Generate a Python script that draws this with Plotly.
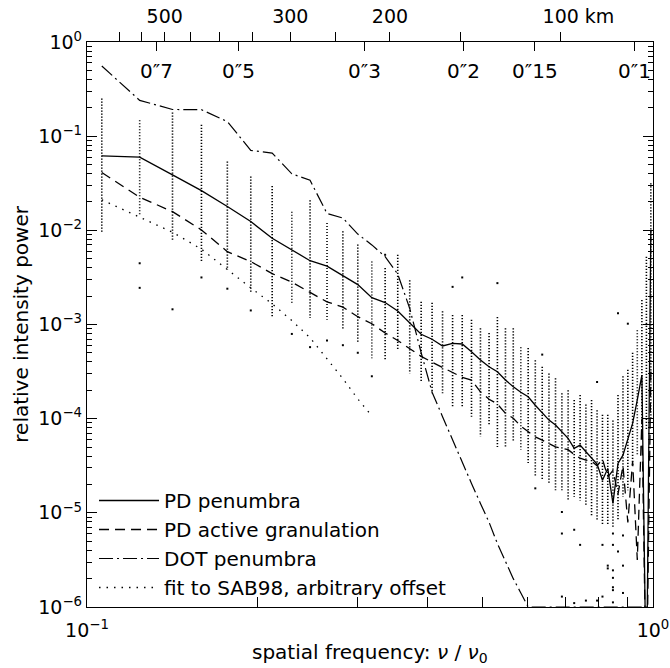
import math
import plotly.graph_objects as go

# ---------------- data ----------------
# spatial frequency nu/nu0 of the sampled rings
nu = [0.1062, 0.1239, 0.1416, 0.1593, 0.1770, 0.1947, 0.2124, 0.2301, 0.2478, 0.2655,
      0.2832, 0.3009, 0.3186, 0.3363, 0.3540, 0.3717, 0.3894, 0.4071, 0.4248, 0.4425,
      0.4602, 0.4779, 0.4956, 0.5133, 0.5310, 0.5487, 0.5664, 0.5841, 0.6018, 0.6195,
      0.6372, 0.6549, 0.6726, 0.6903, 0.7080, 0.7257, 0.7434, 0.7611, 0.7788, 0.7965,
      0.8142, 0.8319, 0.8496, 0.8673, 0.8850, 0.9027, 0.9204, 0.9381, 0.9558, 0.9735,
      0.9912]

pd_penumbra = [6.18e-2, 5.98e-2, 3.88e-2, 2.64e-2, 1.79e-2, 1.24e-2, 8.24e-3, 6.19e-3, 4.76e-3, 4.17e-3,
               3.31e-3, 2.65e-3, 1.93e-3, 1.71e-3, 1.39e-3, 1.04e-3, 7.87e-4, 6.97e-4, 5.92e-4, 6.31e-4,
               6.21e-4, 5.14e-4, 4.20e-4, 3.56e-4, 3.15e-4, 2.57e-4, 2.18e-4, 1.91e-4, 1.71e-4, 1.39e-4,
               1.14e-4, 9.66e-5, 8.55e-5, 7.26e-5, 6.17e-5, 4.83e-5, 5.24e-5, 4.45e-5, 3.78e-5, 3.29e-5,
               2.22e-5, 2.96e-5, 1.26e-5, 3.35e-5, 4.10e-5, 5.92e-5, 8.91e-5, 1.58e-4, 2.90e-4, 1.0e-7,
               1.0e-2]

pd_active = [4.11e-2, 2.25e-2, 1.58e-2, 1.01e-2, 5.94e-3, 4.66e-3, 3.47e-3, 2.82e-3, 2.19e-3, 1.74e-3,
             1.53e-3, 1.21e-3, 1.02e-3, 8.13e-4, 6.76e-4, 5.55e-4, 4.59e-4, 3.98e-4, 3.49e-4, 3.13e-4,
             2.75e-4, 2.57e-4, 1.93e-4, 1.61e-4, 1.43e-4, 1.14e-4, 1.01e-4, 8.32e-5, 7.26e-5, 6.41e-5,
             5.92e-5, 5.43e-5, 5.02e-5, 4.83e-5, 4.68e-5, 4.17e-5, 3.80e-5, 3.63e-5, 3.55e-5, 3.16e-5,
             3.72e-5, 2.40e-5, 2.82e-5, 1.58e-5, 3.16e-5, 7.90e-6, 3.55e-5, 3.16e-6, 1.0e-4, 1.0e-7,
             3.16e-4]

dot_penumbra = [0.556, 0.240, 0.192, 0.191, 0.143, 7.05e-2, 6.61e-2, 3.98e-2, 3.40e-2, 1.51e-2,
                1.35e-2, 9.12e-3, 7.00e-3, 5.26e-3, 3.43e-3, 1.48e-3, 5.01e-4, 1.91e-4, 1.05e-4, 5.92e-5,
                3.35e-5, 2.05e-5, 1.26e-5, 7.94e-6, 4.72e-6, 3.02e-6, 2.00e-6, 1.41e-6, 1.0e-6, 1.0e-6,
                1.0e-6, 1.0e-6, 1.0e-6, 1.0e-6, 1.0e-6, 1.0e-6, 1.0e-6, 1.0e-6, 1.0e-6, 1.0e-6,
                1.0e-6, 1.0e-6, 1.0e-6, 1.0e-6, 1.0e-6, 1.0e-6, 1.0e-6, 1.0e-6, 1.0e-6, 1.0e-6,
                1.0e-6]

sab98_nu = [0.1062, 0.1239, 0.1416, 0.1593, 0.1770, 0.1947, 0.2124, 0.2301, 0.2478, 0.2655,
            0.2832, 0.3009, 0.3186]
sab98_fit = [2.11e-2, 1.38e-2, 9.55e-3, 6.31e-3, 3.80e-3, 2.45e-3, 1.66e-3, 1.10e-3, 7.24e-4, 4.27e-4,
             2.66e-4, 1.62e-4, 1.07e-4]

# extent of the dense column of individual-image power values at each nu
cloud_hi = [0.251, 0.148, 0.178, 0.132, 5.37e-2, 3.72e-2, 2.95e-2, 1.58e-2, 2.09e-2, 1.20e-2,
            9.77e-3, 7.08e-3, 4.68e-3, 3.98e-3, 5.50e-3, 2.95e-3, 1.74e-3, 1.70e-3, 1.38e-3, 1.26e-3,
            1.26e-3, 1.12e-3, 9.12e-4, 8.13e-4, 1.20e-3, 9.12e-4, 9.12e-4, 5.75e-4, 5.62e-4, 4.17e-4,
            3.55e-4, 3.02e-4, 2.69e-4, 1.86e-4, 2.00e-4, 1.58e-4, 1.78e-4, 1.41e-4, 1.58e-4, 1.23e-4,
            1.10e-4, 1.10e-4, 9.55e-5, 1.78e-4, 2.82e-4, 3.31e-4, 5.01e-4, 8.71e-4, 1.82e-3, 5.25e-3,
            3.16e-2]
cloud_lo = [9.55e-3, 1.41e-2, 7.94e-3, 4.57e-3, 3.80e-3, 2.14e-3, 1.17e-3, 1.68e-3, 1.17e-3, 1.12e-3,
            8.71e-4, 6.31e-4, 4.37e-4, 4.17e-4, 5.37e-4, 3.02e-4, 2.45e-4, 1.86e-4, 1.86e-4, 1.35e-4,
            1.35e-4, 1.05e-4, 6.46e-5, 8.51e-5, 5.01e-5, 5.01e-5, 5.62e-5, 4.68e-5, 3.39e-5, 2.40e-5,
            2.24e-5, 2.04e-5, 1.74e-5, 1.74e-5, 1.35e-5, 1.48e-5, 1.35e-5, 1.20e-5, 9.33e-6, 8.32e-6,
            7.41e-6, 7.41e-6, 7.08e-6, 8.32e-6, 1.48e-5, 1.74e-5, 3.09e-5, 3.98e-5, 5.89e-5, 7.59e-5,
            1.0e-4]

# isolated values outside the dense columns
outlier_nu = [0.1239, 0.1239, 0.1416, 0.1593, 0.1770, 0.1947, 0.2301, 0.2478, 0.2655, 0.2832,
              0.3009, 0.3186, 0.3363, 0.4425, 0.4602, 0.5310, 0.6372, 0.7965, 0.8673, 0.9027,
              0.6195, 0.6903, 0.6903, 0.6903, 0.7257, 0.7257, 0.7434, 0.7611, 0.7965, 0.8142,
              0.8142, 0.8319, 0.8319, 0.8496, 0.8496, 0.8496, 0.8496, 0.8496, 0.8496, 0.8496,
              0.8673, 0.8850, 0.8850, 0.8850]
outlier_val = [4.47e-3, 2.45e-3, 1.45e-3, 3.16e-3, 2.40e-3, 1.41e-3, 7.94e-4, 5.75e-4, 6.76e-4, 6.03e-4,
               5.01e-4, 2.82e-4, 5.50e-3, 2.51e-3, 3.16e-3, 2.75e-3, 4.79e-4, 2.45e-4, 1.32e-3, 1.02e-3,
               1.82e-5, 1.02e-5, 6.03e-6, 1.29e-6, 6.61e-6, 1.10e-6, 4.57e-6, 1.17e-6, 1.17e-6, 4.57e-6,
               1.29e-6, 2.75e-6, 2.57e-6, 6.03e-6, 4.57e-6, 2.45e-6, 2.04e-6, 1.62e-6, 1.51e-6, 1.12e-6,
               3.89e-6, 5.75e-6, 2.75e-6, 1.41e-6]

# top-axis scales
km_ticks = [600, 550, 500, 450, 400, 350, 300, 250, 200, 150, 100]
km_labelled = {500: "500", 300: "300", 200: "200", 100: "100 km"}
arcsec_ticks = [0.7, 0.5, 0.3, 0.2, 0.15, 0.1]
arcsec_text = ["0\u20337", "0\u20335", "0\u20333", "0\u20332", "0\u203315", "0\u20331"]
ARCSEC_AT_NU1 = 0.0927      # period (arcsec) at nu/nu0 = 1
KM_PER_ARCSEC = 740.0

FONT = "DejaVu Sans"
FS = 20      # titles, legend, in-plot labels
TFS = 19     # tick labels

# ---------------- figure ----------------
fig = go.Figure()

# dense columns of dots
cx, cy = [], []
for n, hi, lo in zip(nu, cloud_hi, cloud_lo):
    cx += [n, n, None]
    cy += [hi, lo, None]
fig.add_trace(go.Scatter(x=cx, y=cy, mode="lines", showlegend=False, hoverinfo="skip",
                         line=dict(color="black", width=1.6, dash="1.2px,1.8px")))
fig.add_trace(go.Scatter(x=outlier_nu, y=outlier_val, mode="markers", showlegend=False,
                         hoverinfo="skip",
                         marker=dict(symbol="square", size=2, color="black", line=dict(width=0))))

fig.add_trace(go.Scatter(x=nu, y=pd_penumbra, mode="lines", name="PD penumbra",
                         legendgroup="a", line=dict(color="black", width=1.3)))
fig.add_trace(go.Scatter(x=nu, y=pd_active, mode="lines", name="PD active granulation",
                         legendgroup="b", line=dict(color="black", width=1.3, dash="10px,6px")))
fig.add_trace(go.Scatter(x=nu, y=dot_penumbra, mode="lines", name="DOT penumbra",
                         legendgroup="c", line=dict(color="black", width=1.2, dash="14px,4px,2px,4px")))
fig.add_trace(go.Scatter(x=sab98_nu, y=sab98_fit, mode="lines", name="fit to SAB98, arbitrary offset",
                         legendgroup="d", line=dict(color="black", width=1.3, dash="1.5px,6px")))

# helper traces so the top axes exist
fig.add_trace(go.Scatter(x=[0.5], y=[1e-9], xaxis="x2", mode="markers", showlegend=False,
                         hoverinfo="skip", marker=dict(opacity=0)))
fig.add_trace(go.Scatter(x=[0.5], y=[1e-9], xaxis="x3", mode="markers", showlegend=False,
                         hoverinfo="skip", marker=dict(opacity=0)))

km_nu = [ARCSEC_AT_NU1 * KM_PER_ARCSEC / k for k in km_ticks]
nbsp = "\u00a0"
km_text = []
for k in km_ticks:
    t = km_labelled.get(k, "")
    if t.endswith(" km"):
        t = nbsp * 6 + t
    km_text.append(t)
arc_nu = [ARCSEC_AT_NU1 / a for a in arcsec_ticks]

minor_x = [0.2, 0.3, 0.4, 0.5, 0.6, 0.7, 0.8, 0.9]
dec = [1e-6, 1e-5, 1e-4, 1e-3, 1e-2, 1e-1, 1]
minor_y = [m * d for d in dec[:-1] for m in range(2, 10)]

axcommon = dict(showgrid=False, zeroline=False, showline=True, linecolor="black", linewidth=1.3,
                tickcolor="black", tickwidth=1, tickfont=dict(family=FONT, size=TFS, color="black"))

fig.update_layout(
    width=670, height=668,
    margin=dict(l=87, r=17, t=42, b=61, autoexpand=False),
    paper_bgcolor="white", plot_bgcolor="white",
    font=dict(family=FONT, size=FS, color="black"),
    xaxis=dict(type="log", range=[-1, 0], tickmode="array", tickvals=[0.1, 1],
               ticktext=["10<sup>\u22121</sup>", "10<sup>0</sup>"], ticks="inside", ticklen=10,
               mirror=False, ticklabelstandoff=6,
               minor=dict(tickmode="array", tickvals=minor_x, ticks="inside", ticklen=10,
                          tickcolor="black"),
               **axcommon),
    xaxis2=dict(type="log", range=[-1, 0], overlaying="x", side="top", anchor="y",
                tickmode="array", tickvals=km_nu, ticktext=km_text, ticks="outside", ticklen=9,
                ticklabelstandoff=1, **axcommon),
    xaxis3=dict(type="log", range=[-1, 0], overlaying="x", side="top", anchor="y",
                tickmode="array", tickvals=arc_nu, ticks="inside", ticklen=9,
                showticklabels=False, showgrid=False, zeroline=False, showline=False,
                tickcolor="black"),
    yaxis=dict(type="log", range=[-6, 0], tickmode="array", tickvals=dec,
               ticktext=["10<sup>\u2212%d</sup>" % e for e in range(6, 0, -1)] + ["10<sup>0</sup>"],
               ticks="inside", ticklen=10, mirror="ticks",
               minor=dict(tickmode="array", tickvals=minor_y, ticks="inside", ticklen=5,
                          tickcolor="black"),
               **axcommon),
    legend=dict(x=0.0124, y=0.0, xanchor="left", yanchor="bottom", bgcolor="rgba(0,0,0,0)",
                font=dict(family=FONT, size=FS), traceorder="grouped", tracegroupgap=0,
                itemwidth=60),
    showlegend=True,
)

ann = []
for a_nu, t in zip(arc_nu, arcsec_text):
    ann.append(dict(x=math.log10(a_nu), y=0.949, xref="x", yref="paper", text=t, showarrow=False,
                    xanchor="center", yanchor="middle", font=dict(family=FONT, size=FS)))
ann.append(dict(x=-0.118, y=0.5, xref="paper", yref="paper", text="relative intensity power",
                textangle=-90, showarrow=False, xanchor="center", yanchor="middle",
                font=dict(family=FONT, size=FS)))
ann.append(dict(x=0.5, y=-0.082, xref="paper", yref="paper",
                text="spatial frequency: <i>\u03bd</i> / <i>\u03bd</i><sub>0</sub>",
                showarrow=False, xanchor="center", yanchor="middle", font=dict(family=FONT, size=FS)))
fig.update_layout(annotations=ann)

fig.write_html("out.html")
